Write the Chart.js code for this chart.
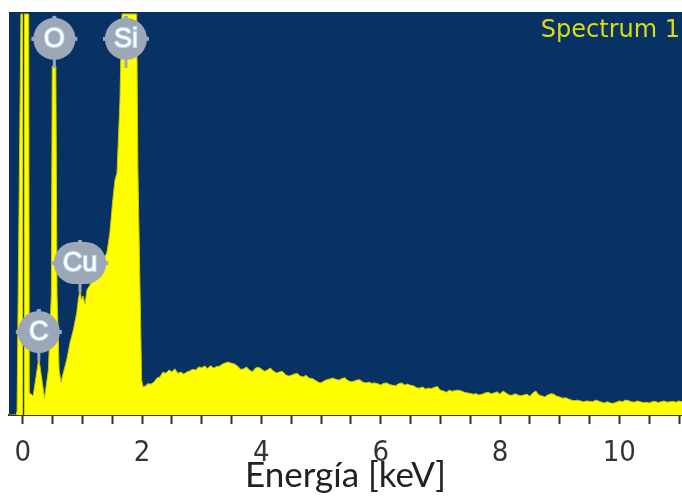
<!DOCTYPE html>
<html>
<head>
<meta charset="utf-8">
<script src="https://cdn.jsdelivr.net/npm/chart.js@4.4.1/dist/chart.umd.min.js"></script>
<style>
  html, body { margin: 0; padding: 0; background: #ffffff; }
  #wrap { width: 682px; height: 497px; position: relative; }
</style>
</head>
<body>
<div id="wrap"><canvas id="spectrum"></canvas></div>
<script>
// low energy part: zero peak, C, O, Cu and the saturated Si peak (keV / counts)
var peakEnergy = [-0.23, -0.11, -0.095, -0.03, 0.10, 0.11, 0.175, 0.27, 0.365, 0.43,
    0.48, 0.495, 0.555, 0.575, 0.61, 0.642, 0.68, 0.737, 0.792, 0.848,
    0.905, 0.931, 0.96, 0.985, 1.01, 1.044, 1.077, 1.16, 1.245, 1.33,
    1.41, 1.46, 1.51, 1.546, 1.58, 1.596, 1.63, 1.647, 1.665, 1.91,
    1.93, 1.993, 2.015];
var peakCounts = [0, 0, 10, 1000, 1000, 55, 48, 142, 42, 112,
    302, 870, 870, 302, 112, 82, 105, 137, 180, 212,
    254, 287, 312, 287, 297, 277, 312, 332, 354, 382,
    404, 454, 536, 586, 603, 661, 786, 910, 1000, 1000,
    618, 87, 70];

// background channels from 2.05 keV, 0.05 keV wide
var bgStart = 2.05;
var bgStep = 0.05;
var bgCounts = [
    72, 78, 77, 82, 92, 95, 107, 104, 112, 108,
    115, 104, 107, 102, 107, 110, 114, 112, 120, 118,
    122, 116, 123, 117, 121, 122, 127, 130, 132, 129,
    127, 122, 114, 115, 120, 112, 108, 117, 119, 115,
    109, 112, 117, 110, 105, 107, 109, 101, 97, 99,
    102, 104, 97, 95, 99, 92, 91, 87, 82, 80,
    85, 88, 90, 92, 89, 87, 91, 93, 86, 83,
    84, 87, 88, 82, 80, 82, 79, 80, 78, 75,
    79, 80, 76, 74, 73, 78, 80, 75, 77, 74,
    73, 68, 67, 70, 65, 67, 66, 69, 71, 62,
    60, 57, 62, 59, 61, 62, 60, 57, 55, 54,
    52, 53, 50, 52, 55, 57, 53, 55, 58, 52,
    60, 55, 50, 49, 53, 50, 48, 50, 52, 47,
    55, 60, 50, 48, 45, 50, 53, 52, 47, 45,
    42, 43, 40, 37, 36, 37, 35, 33, 35, 34,
    33, 37, 35, 32, 30, 33, 30, 29, 32, 35,
    33, 37, 36, 33, 32, 35, 33, 31, 32, 30,
    33, 34, 31, 33, 35, 32, 33, 34, 32, 35,
    33
];

// axes
var energyMin = -0.23;
var energyMax = 11.05;
var tickStep = 0.5;
var labelledTicks = [0, 2, 4, 6, 8, 10];
var countsMax = 1005;
var axisTitle = 'Energía [keV]';

// element markers
var elementNames = ['C', 'O', 'Cu', 'Si'];
var elementEnergy = [0.27, 0.53, 0.96, 1.73];
var elementLabelCounts = [207, 938, 379, 938];
var spectrumName = 'Spectrum 1';

var points = [];
peakEnergy.forEach(function (e, i) {
    points.push({ x: e, y: peakCounts[i] });
});
bgCounts.forEach(function (c, i) {
    points.push({ x: +(bgStart + i * bgStep).toFixed(2), y: c });
});

// navy plot area
var plotBackground = {
    id: 'plotBackground',
    beforeDraw: function (chart) {
        var a = chart.chartArea;
        var ctx = chart.ctx;
        ctx.save();
        ctx.fillStyle = '#073263';
        ctx.fillRect(a.left, a.top, a.right - a.left, a.bottom - a.top);
        ctx.restore();
    }
};

// rounded grey badge with a small stem under it
function drawBadge(ctx, cx, cy, text) {
    ctx.font = '27px "Liberation Sans", Arial, sans-serif';
    var w = Math.max(42, ctx.measureText(text).width + 18);
    var h = 42;
    ctx.fillStyle = '#9ca7b8';
    ctx.beginPath();
    ctx.roundRect(cx - w / 2, cy - h / 2, w, h, h / 2);
    ctx.fill();
    // nubs round the rim
    ctx.fillRect(cx - 2, cy - h / 2 - 2, 4, 3);
    ctx.fillRect(cx - w / 2 - 2, cy - 2, 3, 4);
    ctx.fillRect(cx + w / 2 - 1, cy - 2, 3, 4);
    ctx.fillRect(cx - 1.5, cy + h / 2 - 1, 3, 9);
    ctx.textAlign = 'center';
    ctx.textBaseline = 'middle';
    ctx.lineWidth = 2;
    ctx.strokeStyle = 'rgba(190, 222, 248, 0.9)';
    ctx.strokeText(text, cx, cy + 1);
    ctx.fillStyle = '#ffffff';
    ctx.fillText(text, cx, cy + 1);
}

var overlays = {
    id: 'overlays',
    afterDatasetsDraw: function (chart) {
        var ctx = chart.ctx;
        var a = chart.chartArea;
        var xs = chart.scales.x;
        var ys = chart.scales.y;
        ctx.save();
        // zero energy marker
        var x0 = Math.round(xs.getPixelForValue(0)) + 0.5;
        ctx.strokeStyle = '#2b3b35';
        ctx.lineWidth = 1.5;
        ctx.beginPath();
        ctx.moveTo(x0, a.top);
        ctx.lineTo(x0, a.bottom);
        ctx.stroke();

        elementNames.forEach(function (name, i) {
            drawBadge(ctx, xs.getPixelForValue(elementEnergy[i]),
                ys.getPixelForValue(elementLabelCounts[i]), name);
        });

        ctx.font = '24px "DejaVu Sans", sans-serif';
        ctx.textAlign = 'right';
        ctx.textBaseline = 'alphabetic';
        ctx.fillStyle = '#dcdc10';
        ctx.fillText(spectrumName, a.right - 2, a.top + 25);
        ctx.restore();
    }
};

new Chart(document.getElementById('spectrum'), {
    type: 'line',
    data: {
        datasets: [{
            data: points,
            fill: 'origin',
            backgroundColor: '#ffff00',
            borderColor: '#c8c800',
            borderWidth: 1,
            pointRadius: 0,
            tension: 0
        }]
    },
    options: {
        responsive: true,
        maintainAspectRatio: false,
        animation: false,
        layout: { padding: { left: 9, top: 12, right: 0, bottom: 0 } },
        plugins: {
            legend: { display: false },
            tooltip: { enabled: false }
        },
        scales: {
            x: {
                type: 'linear',
                min: energyMin,
                max: energyMax,
                afterFit: function (scale) {
                    scale.height = 82;
                    scale.paddingLeft = 0;
                    scale.paddingRight = 0;
                },
                border: { display: true, color: '#333326', width: 2 },
                grid: {
                    drawOnChartArea: false,
                    drawTicks: true,
                    tickLength: 9,
                    tickWidth: 2,
                    tickColor: '#333333'
                },
                ticks: {
                    stepSize: tickStep,
                    includeBounds: false,
                    autoSkip: false,
                    maxRotation: 0,
                    padding: 12,
                    color: '#333333',
                    font: { family: '"Liberation Sans Narrow", "DejaVu Sans Condensed", sans-serif', size: 29 },
                    callback: function (value) {
                        return labelledTicks.indexOf(value) >= 0 ? String(value) : '';
                    }
                },
                title: {
                    display: true,
                    text: axisTitle,
                    color: '#222222',
                    font: { family: 'Lato, "Open Sans", sans-serif', size: 35 },
                    padding: 0
                }
            },
            y: {
                display: false,
                min: 0,
                max: countsMax
            }
        }
    },
    plugins: [plotBackground, overlays]
});
</script>
</body>
</html>
